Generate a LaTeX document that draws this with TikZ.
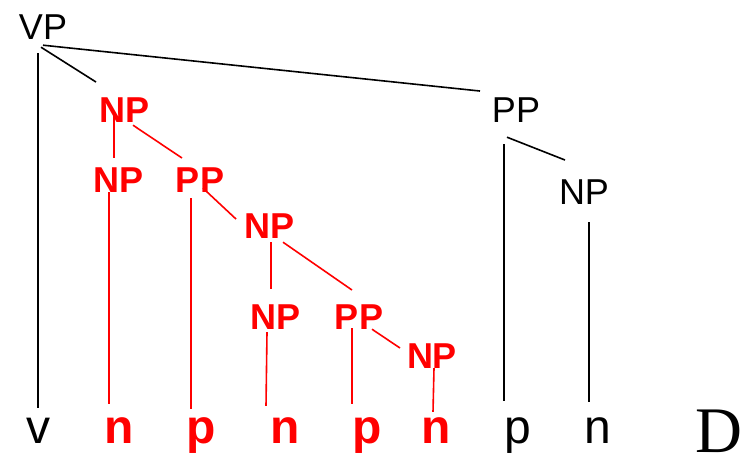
\documentclass[tikz,border=0pt]{standalone}
\usepackage{fontspec}
\setmainfont{Liberation Sans}
\newfontfamily\dfont{Liberation Serif}
\tikzset{
  cat/.style={inner sep=0pt, anchor=base, font=\fontsize{36}{40}\selectfont},
  redcat/.style={cat, text=red, font=\fontsize{36}{40}\selectfont\bfseries},
  word/.style={inner sep=0pt, anchor=base, font=\fontsize{48}{52}\selectfont},
  redword/.style={word, text=red, font=\fontsize{48}{52}\selectfont\bfseries},
  branch/.style={line width=1.6pt},
  redbranch/.style={branch, red}
}
\begin{document}
\begin{tikzpicture}[x=1pt,y=-1pt]
\useasboundingbox (0,0) rectangle (754,462);
% categories
\node[cat] (vp) at (43,40) {VP};
\node[redcat] (npA) at (125,123) {NP};
\node[redcat] (npB) at (119,193) {NP};
\node[redcat] (ppB) at (200,193) {PP};
\node[redcat] (npC) at (270,239) {NP};
\node[redcat] (npD) at (276,329) {NP};
\node[redcat] (ppD) at (359,329) {PP};
\node[redcat] (npE) at (432,368) {NP};
\node[cat] (ppR) at (516,123) {PP};
\node[cat] (npR) at (584,205) {NP};
% words
\node[word] (wv) at (38.5,443) {v};
\node[redword] (wn1) at (119,443) {n};
\node[redword] (wp1) at (201.5,443) {p};
\node[redword] (wn2) at (285,443) {n};
\node[redword] (wp2) at (367.5,443) {p};
\node[redword] (wn3) at (436.5,443) {n};
\node[word] (wp3) at (517.5,443) {p};
\node[word] (wn4) at (598,443) {n};
\node[inner sep=0pt, anchor=base, font=\dfont\fontsize{65}{70}\selectfont] (dlabel) at (718.5,452) {D};
% black branches
\draw[branch] ([xshift=-5pt,yshift=-13pt]vp.south) -- ([xshift=-0.5pt,yshift=9pt]wv.north);
\draw[branch] ([xshift=-2pt,yshift=-7pt]vp.south) -- ([xshift=-29pt,yshift=16pt]npA.north);
\draw[branch] ([yshift=-5pt]vp.south) -- ([xshift=-36pt,yshift=7pt]ppR.north);
\draw[branch] ([xshift=-12pt,yshift=-21pt]ppR.south) -- ([xshift=-13.5pt,yshift=16pt]wp3.north);
\draw[branch] ([xshift=-9pt,yshift=-14pt]ppR.south) -- ([xshift=-19pt,yshift=20pt]npR.north);
\draw[branch] ([xshift=5pt,yshift=-17pt]npR.south) -- ([xshift=-9pt,yshift=15pt]wn4.north);
% red branches
\draw[redbranch] ([xshift=-11pt,yshift=10pt]npA.south) -- ([xshift=-5pt,yshift=10pt]npB.north);
\draw[redbranch] ([xshift=8pt,yshift=-2pt]npA.south) -- ([xshift=-18pt,yshift=10pt]ppB.north);
\draw[redbranch] ([xshift=-10pt,yshift=1pt]npB.south) -- ([xshift=-10pt,yshift=13pt]wn1.north);
\draw[redbranch] ([xshift=-9pt,yshift=-5pt]ppB.south) -- ([xshift=-10.5pt,yshift=8pt]wp1.north);
\draw[redbranch] ([xshift=3pt,yshift=5pt]ppB.south) -- ([xshift=-34pt,yshift=-5pt]npC.north);
\draw[redbranch] ([xshift=1pt,yshift=-3pt]npC.south) -- ([xshift=-5pt,yshift=15pt]npD.north);
\draw[redbranch] ([xshift=13pt,yshift=-3pt]npC.south) -- ([xshift=-7pt,yshift=14pt]ppD.north);
\draw[redbranch] ([xshift=-9pt,yshift=-3pt]npD.south) -- ([xshift=-19pt,yshift=11pt]wn2.north);
\draw[redbranch] ([xshift=-7pt,yshift=1pt]ppD.south) -- ([xshift=-15.5pt,yshift=13pt]wp2.north);
\draw[redbranch] ([xshift=13pt]ppD.south) -- ([xshift=-32pt,yshift=-5pt]npE.north);
\draw[redbranch] ([xshift=2pt]npE.south) -- ([xshift=-3.5pt,yshift=5pt]wn3.north);
\end{tikzpicture}
\end{document}
